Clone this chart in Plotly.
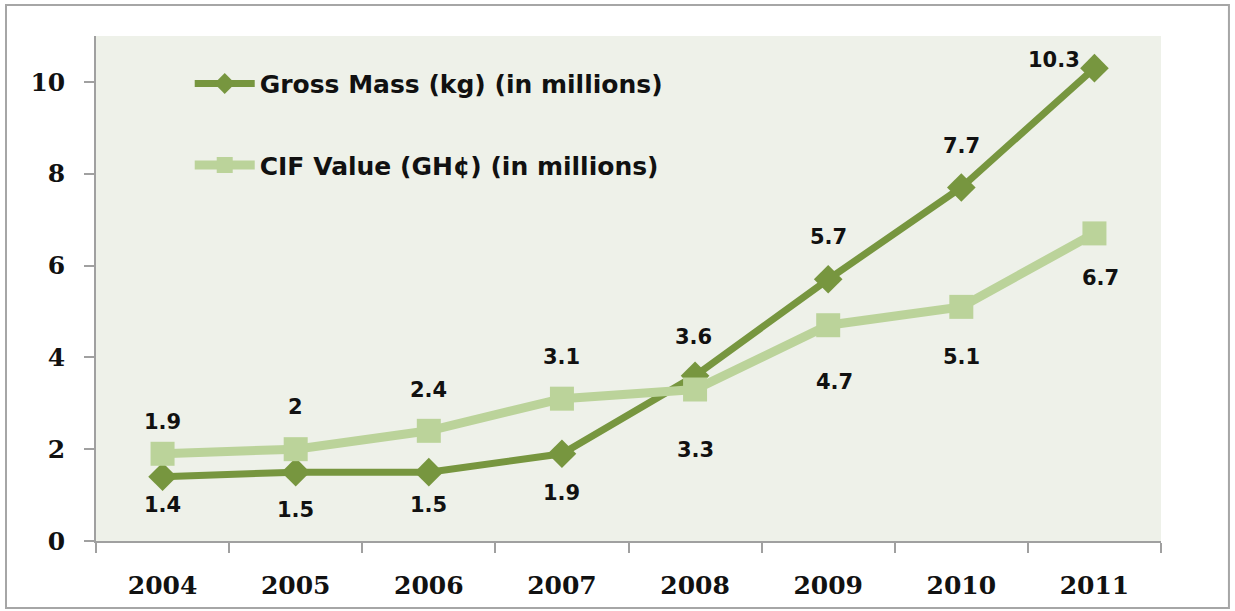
import plotly.graph_objects as go

years = ["2004", "2005", "2006", "2007", "2008", "2009", "2010", "2011"]
gross_mass = [1.4, 1.5, 1.5, 1.9, 3.6, 5.7, 7.7, 10.3]
cif_value = [1.9, 2.0, 2.4, 3.1, 3.3, 4.7, 5.1, 6.7]
gross_labels = ["1.4", "1.5", "1.5", "1.9", "3.6", "5.7", "7.7", "10.3"]
cif_labels = ["1.9", "2", "2.4", "3.1", "3.3", "4.7", "5.1", "6.7"]

# label offsets (style): pixel shifts relative to each point
gross_yshift = [-28, -38, -33, -39, 39, 42, 42, 8]
gross_xshift = [0, 0, 0, 0, -2, 0, 0, -40]
cif_yshift = [32, 42, 41, 42, -60, -57, -50, -45]
cif_xshift = [0, 0, 0, 0, 0, 6, 0, 6]

DARK = "#77963F"
LIGHT = "#BBD39A"

fig = go.Figure()
fig.add_trace(go.Scatter(
    x=years, y=gross_mass, name="Gross Mass (kg) (in millions)",
    mode="lines+markers", legendgroup="a",
    line=dict(color=DARK, width=7),
    marker=dict(symbol="diamond", size=22, color=DARK),
))
fig.add_trace(go.Scatter(
    x=years, y=cif_value, name="CIF Value (GH¢) (in millions)",
    mode="lines+markers", legendgroup="b",
    line=dict(color=LIGHT, width=9),
    marker=dict(symbol="square", size=24, color=LIGHT),
))

label_font = dict(family="DejaVu Sans, sans-serif", size=21, color="#111111", weight="bold")
for i, (v, t, dy, dx) in enumerate(zip(gross_mass, gross_labels, gross_yshift, gross_xshift)):
    fig.add_annotation(x=i, y=v, text=t, showarrow=False, yshift=dy, xshift=dx, font=label_font)
for i, (v, t, dy, dx) in enumerate(zip(cif_value, cif_labels, cif_yshift, cif_xshift)):
    fig.add_annotation(x=i, y=v, text=t, showarrow=False, yshift=dy, xshift=dx, font=label_font)

# outer border
fig.add_shape(type="rect", xref="paper", yref="paper",
              x0=-0.0845, x1=1.0638, y0=-0.1327, y1=1.0614,
              line=dict(color="#A6A6A6", width=2), fillcolor="rgba(0,0,0,0)", layer="below")

tick_font = dict(family="DejaVu Serif, serif", size=25, color="#111111", weight="bold")
fig.update_layout(
    width=1235, height=611,
    margin=dict(l=96, r=74, t=36, b=70),
    paper_bgcolor="white",
    plot_bgcolor="#EEF1E9",
    showlegend=True,
    legend=dict(
        x=0.088, y=0.951, xanchor="left", yanchor="top",
        bgcolor="rgba(0,0,0,0)",
        font=dict(family="DejaVu Sans, sans-serif", size=25, color="#111111", weight="bold"),
        tracegroupgap=46, itemwidth=60,
    ),
    xaxis=dict(
        type="category", tickson="boundaries", ticks="outside", ticklen=10,
        tickcolor="#A0A0A0", tickwidth=1.5,
        showline=True, linecolor="#A0A0A0", linewidth=1.5,
        showgrid=False, zeroline=False, tickfont=tick_font,
        ticklabelstandoff=21, range=[-0.5, 7.5],
    ),
    yaxis=dict(
        range=[0, 11], tickvals=[0, 2, 4, 6, 8, 10], ticks="outside", ticklen=10,
        tickcolor="#A0A0A0", tickwidth=1.5,
        showline=True, linecolor="#A0A0A0", linewidth=1.5,
        showgrid=False, zeroline=False, tickfont=tick_font,
        ticklabelstandoff=14,
    ),
)

fig.write_html("out.html", config={"displayModeBar": False},
               post_script="document.body.style.margin='0';")
